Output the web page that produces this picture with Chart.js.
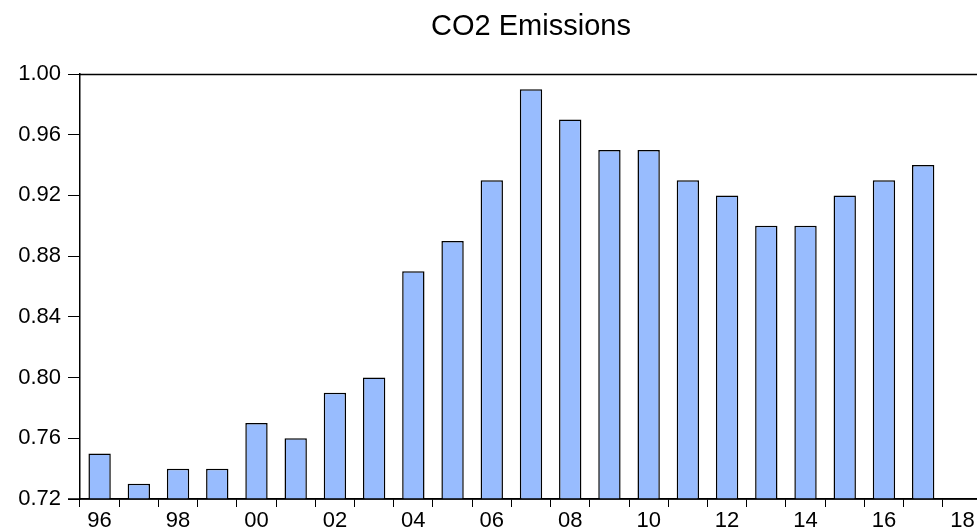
<!DOCTYPE html>
<html>
<head>
<meta charset="utf-8">
<title>CO2 Emissions</title>
<script src="https://cdn.jsdelivr.net/npm/chart.js@4"></script>
<style>
  html, body { margin: 0; padding: 0; background: #fff; overflow: hidden; }
  #wrap { width: 982px; height: 529px; }
</style>
</head>
<body>
<div id="wrap"><canvas id="co2Chart" width="982" height="529"></canvas></div>
<script>
// --- data ---
const years = ['96', '97', '98', '99', '00', '01', '02', '03', '04', '05', '06', '07',
               '08', '09', '10', '11', '12', '13', '14', '15', '16', '17', '18'];
const co2 = [0.75, 0.73, 0.74, 0.74, 0.77, 0.76, 0.79, 0.80, 0.87, 0.89, 0.93, 0.99,
             0.97, 0.95, 0.95, 0.93, 0.92, 0.90, 0.90, 0.92, 0.93, 0.94, null];
const yTicks = { min: 0.72, max: 1.00, step: 0.04 };
const chartTitle = 'CO2 Emissions';

const FONT = '"Liberation Sans", Arial, sans-serif';

// title centred over the plot area + closing top border line (EViews look)
const frame = {
    id: 'frame',
    afterDraw: (chart) => {
        const { ctx, chartArea } = chart;
        ctx.save();
        ctx.strokeStyle = '#000';
        ctx.lineWidth = 1.5;
        ctx.beginPath();
        ctx.moveTo(chartArea.left, chartArea.top + 0.5);
        ctx.lineTo(chartArea.right, chartArea.top + 0.5);
        // redraw the baseline so bars don't break it
        ctx.moveTo(chartArea.left - 12, chartArea.bottom);
        ctx.lineTo(chartArea.right, chartArea.bottom);
        ctx.stroke();

        ctx.fillStyle = '#000';
        ctx.font = '29px ' + FONT;
        ctx.textAlign = 'center';
        ctx.textBaseline = 'alphabetic';
        ctx.fillText(chartTitle, (chartArea.left + chartArea.right) / 2, 35);
        ctx.restore();
    }
};

new Chart(document.getElementById('co2Chart'), {
    type: 'bar',
    data: {
        labels: years,
        datasets: [{
            data: co2,
            backgroundColor: '#98BCFE',
            borderColor: '#000',
            borderWidth: 1.5,
            borderSkipped: false,
            categoryPercentage: 1.0,
            barPercentage: 0.57
        }]
    },
    options: {
        responsive: false,
        animation: false,
        devicePixelRatio: 1,
        layout: { padding: { top: 74, right: 0, left: 0, bottom: 0 } },
        plugins: {
            legend: { display: false },
            tooltip: { enabled: false }
        },
        scales: {
            x: {
                offset: true,
                grid: {
                    offset: true,
                    drawOnChartArea: false,
                    tickLength: 8,
                    color: '#000'
                },
                border: { color: '#000', width: 1.5 },
                ticks: {
                    autoSkip: false,
                    maxRotation: 0,
                    padding: 1,
                    color: '#000',
                    font: { family: FONT, size: 22 },
                    callback: (v, i) => (i % 2 === 0 ? years[i] : '')
                },
                afterFit: (axis) => { axis.height = 30; }
            },
            y: {
                min: yTicks.min,
                max: yTicks.max,
                grid: {
                    drawOnChartArea: false,
                    tickLength: 12,
                    color: '#000'
                },
                border: { color: '#000', width: 1.5 },
                ticks: {
                    stepSize: yTicks.step,
                    padding: 7,
                    color: '#000',
                    font: { family: FONT, size: 22 },
                    callback: (v) => v.toFixed(2)
                },
                afterFit: (axis) => { axis.width = 80; }
            }
        }
    },
    plugins: [frame]
});
</script>
</body>
</html>
